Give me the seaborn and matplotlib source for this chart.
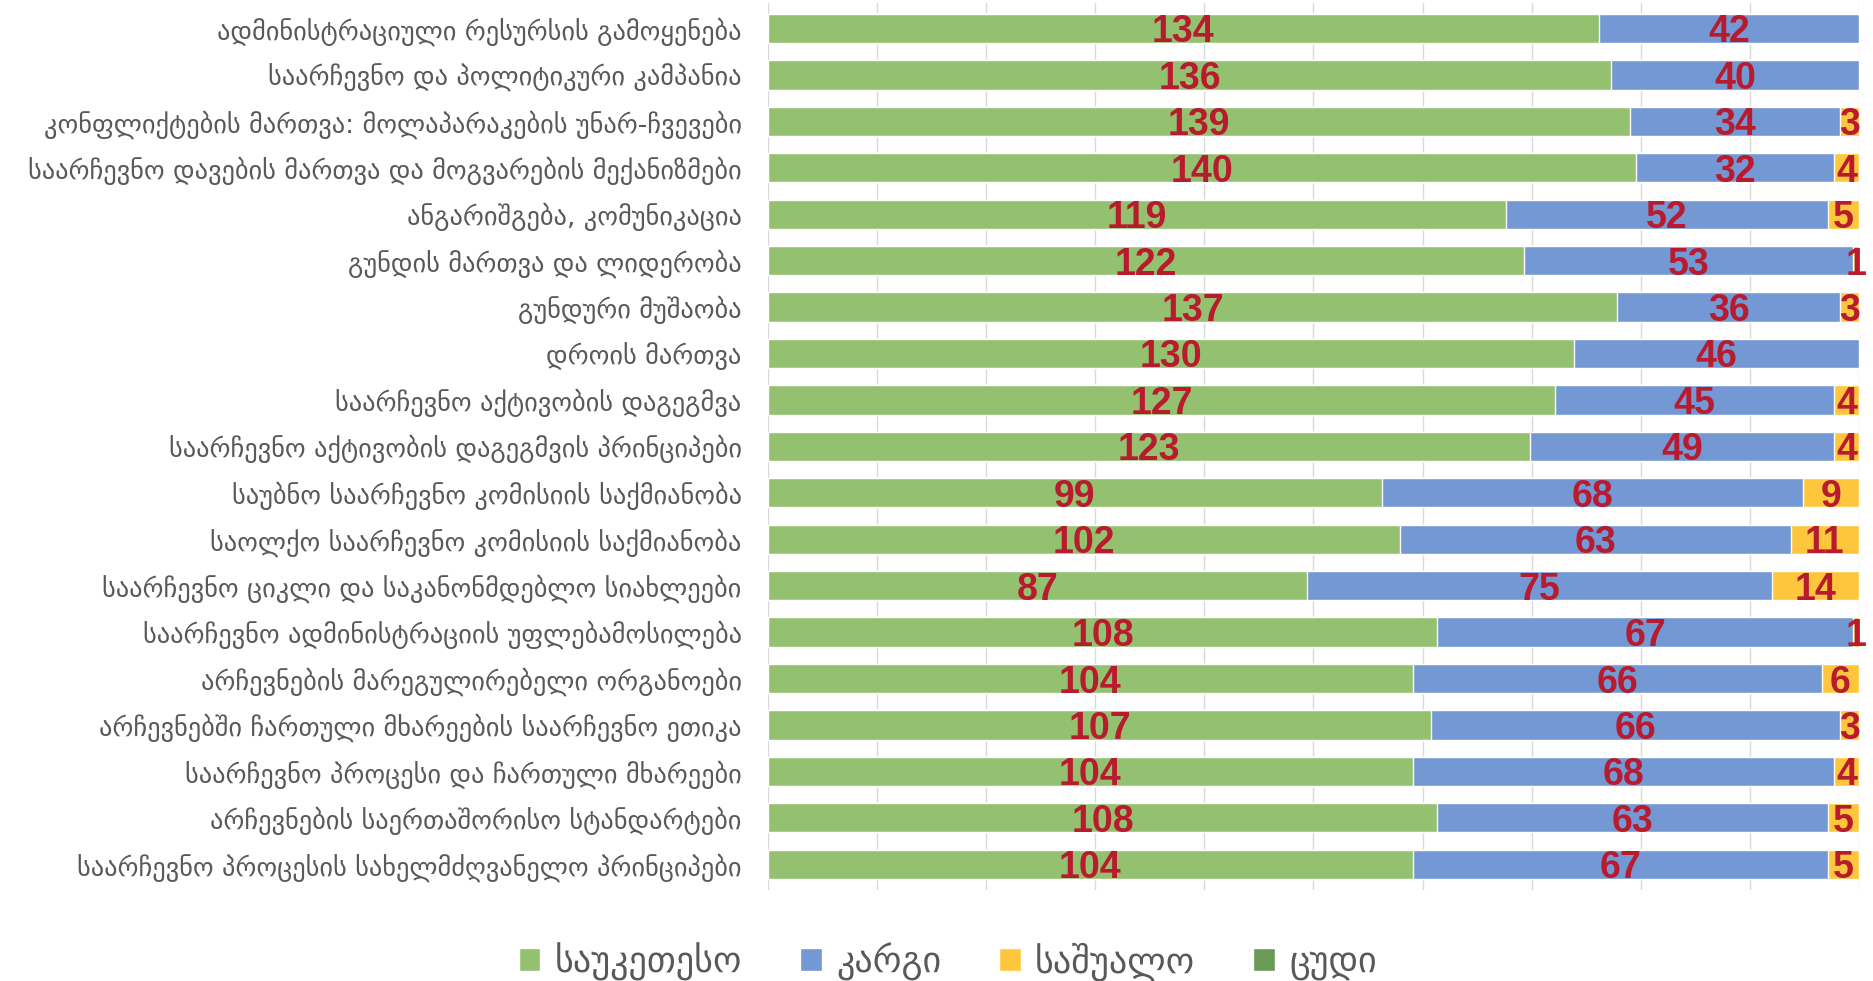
import numpy as np
import pandas as pd
import seaborn as sns
import matplotlib.pyplot as plt

topics = [
    "ადმინისტრაციული რესურსის გამოყენება",
    "საარჩევნო და პოლიტიკური კამპანია",
    "კონფლიქტების მართვა: მოლაპარაკების უნარ-ჩვევები",
    "საარჩევნო დავების მართვა და მოგვარების მექანიზმები",
    "ანგარიშგება, კომუნიკაცია",
    "გუნდის მართვა და ლიდერობა",
    "გუნდური მუშაობა",
    "დროის მართვა",
    "საარჩევნო აქტივობის დაგეგმვა",
    "საარჩევნო აქტივობის დაგეგმვის პრინციპები",
    "საუბნო საარჩევნო კომისიის საქმიანობა",
    "საოლქო საარჩევნო კომისიის საქმიანობა",
    "საარჩევნო ციკლი და საკანონმდებლო სიახლეები",
    "საარჩევნო ადმინისტრაციის უფლებამოსილება",
    "არჩევნების მარეგულირებელი ორგანოები",
    "არჩევნებში ჩართული მხარეების საარჩევნო ეთიკა",
    "საარჩევნო პროცესი და ჩართული მხარეები",
    "არჩევნების საერთაშორისო სტანდარტები",
    "საარჩევნო პროცესის სახელმძღვანელო პრინციპები",
]
best = [134, 136, 139, 140, 119, 122, 137, 130, 127, 123, 99, 102, 87, 108, 104, 107, 104, 108, 104]
good = [42, 40, 34, 32, 52, 53, 36, 46, 45, 49, 68, 63, 75, 67, 66, 66, 68, 63, 67]
average = [0, 0, 3, 4, 5, 1, 3, 0, 4, 4, 9, 11, 14, 1, 6, 3, 4, 5, 5]
bad = [0] * 19

series_names = ["საუკეთესო", "კარგი", "საშუალო", "ცუდი"]
colors = ["#93c170", "#7398d4", "#fdc63c", "#6b9a57"]

sns.set_theme(style="white")
plt.rcParams["font.family"] = ["DejaVu Sans"]

df = pd.DataFrame({"topic": topics, "best": best, "good": good,
                   "average": average, "bad": bad})
df["c1"] = df["best"]
df["c2"] = df["c1"] + df["good"]
df["c3"] = df["c2"] + df["average"]
df["c4"] = df["c3"] + df["bad"]
total = int(df["c4"].max())

fig = plt.figure(figsize=(18.73, 9.81), dpi=100)
ax = fig.add_axes([0.41, 0.093, 0.5825, 0.904])

# stacked bars: draw cumulative sums from the back
for col, name, color in zip(["c4", "c3", "c2", "c1"], series_names[::-1], colors[::-1]):
    sns.barplot(data=df, x=col, y="topic", orient="h", color=color,
                width=0.63, label=name, ax=ax, saturation=1, zorder=2)

# value labels
for i, row in df.iterrows():
    starts = [0, row["c1"], row["c2"]]
    vals = [row["best"], row["good"], row["average"]]
    for s, v in zip(starts, vals):
        if v > 0:
            ax.text(s + v / 2, i, str(v), ha="center", va="center_baseline",
                    fontsize=27, fontweight="bold", color="#b81a2e",
                    family="Liberation Sans", clip_on=False, zorder=5)

ax.set_xlim(0, total)
ax.set_ylim(18.55, -0.55)
ax.set_xticks(np.linspace(0, total, 11))
ax.set_xticklabels([])
ax.grid(axis="x", color="#d9d9d9", lw=1)
ax.set_axisbelow(True)
ax.tick_params(axis="y", length=0, pad=19, labelsize=19, labelcolor="#595959")
ax.tick_params(axis="x", length=0)
ax.set_xlabel("")
ax.set_ylabel("")
for s in ax.spines.values():
    s.set_visible(False)

handles, labels = ax.get_legend_handles_labels()
order = [labels.index(n) for n in series_names]
ax.legend().remove()
fig.legend([handles[k] for k in order], series_names, loc="center",
           bbox_to_anchor=(0.506, 0.02), ncol=4, frameon=False,
           fontsize=26, labelcolor="#595959", handlelength=0.6,
           handleheight=0.6, handletextpad=0.4, columnspacing=1.6)

fig.savefig("out.png", dpi=100)
